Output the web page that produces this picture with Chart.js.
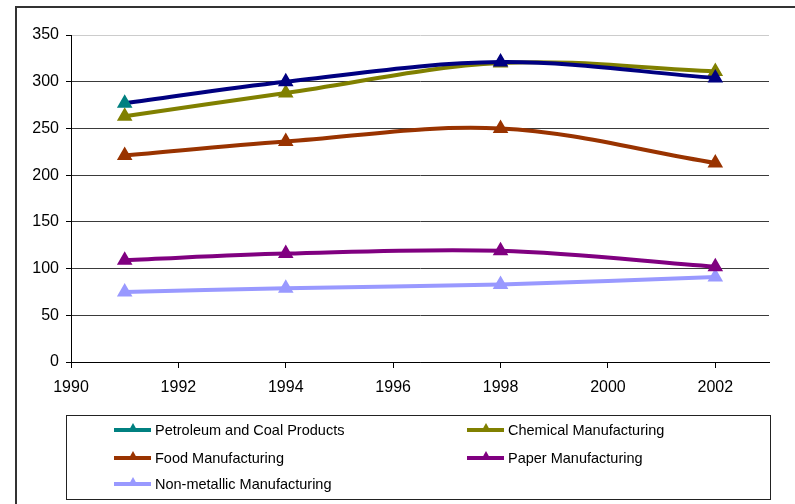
<!DOCTYPE html>
<html>
<head>
<meta charset="utf-8">
<script src="https://cdn.jsdelivr.net/npm/chart.js@4"></script>
<style>
  body { margin: 0; background: #fff; font-family: "Liberation Sans", Arial, sans-serif; }
  #wrap { position: relative; width: 795px; height: 504px; overflow: hidden; }
  #frame { position: absolute; left: 15px; top: 6px; width: 900px; height: 600px; border: 2px solid #333; }
  #grafico { position: absolute; left: 0; top: 0; }
  #leyenda { position: absolute; left: 66px; top: 415px; width: 703px; height: 83px; border: 1px solid #222; }
  .item { position: absolute; font-size: 14.5px; color: #000; white-space: nowrap; line-height: 18px; }
  .sim { position: absolute; left: -41px; top: 7px; width: 37px; height: 4px; }
  .tri { position: absolute; left: 14px; top: -5px; width: 0; height: 0;
         border-left: 5px solid transparent; border-right: 5px solid transparent; border-bottom: 9px solid; }
</style>
</head>
<body>
<div id="wrap">
  <div id="frame"></div>
  <canvas id="grafico" width="795" height="504"></canvas>
  <div id="leyenda"></div>
</div>
<script>
// datos
const anios = [1991, 1994, 1998, 2002];
const petroleo = [277, 300, 321, 304];
const quimica = [263, 288, 320, 311];
const alimentos = [221, 236, 250, 213];
const papel = [109, 116, 119, 102];
const noMetalica = [75, 79, 83, 91];
const ticksY = [0, 50, 100, 150, 200, 250, 300, 350];
const ticksX = [1990, 1992, 1994, 1996, 1998, 2000, 2002];

const nombres = ["Petroleum and Coal Products", "Chemical Manufacturing", "Food Manufacturing",
                 "Paper Manufacturing", "Non-metallic Manufacturing"];
const series = [petroleo, quimica, alimentos, papel, noMetalica];
const colores = ["#008080", "#808000", "#993300", "#800080", "#9999ff"];

function puntos(valores) {
    return anios.map((a, i) => ({ x: a, y: valores[i] }));
}

const datasets = series.map((s, i) => ({
    label: nombres[i],
    data: puntos(s),
    borderColor: colores[i],
    backgroundColor: colores[i],
    pointBackgroundColor: colores[i],
    pointBorderColor: colores[i],
    borderWidth: 4,
    pointStyle: 'triangle',
    pointRadius: 5,
    tension: 0.35,
    fill: false
}));
// la linea de petroleo sale azul oscuro, solo el primer marcador es verde azulado
datasets[0].segment = { borderColor: "#000080" };
datasets[0].pointBackgroundColor = anios.map((a, i) => i === 0 ? "#008080" : "#000080");
datasets[0].pointBorderColor = datasets[0].pointBackgroundColor;
// dibujar petroleo encima
datasets[0].order = -1;

const fuente = { family: "'Liberation Sans', Arial, sans-serif", size: 16 };

const chart = new Chart(document.getElementById('grafico'), {
    type: 'line',
    data: { datasets: datasets },
    options: {
        responsive: false,
        animation: false,
        layout: { padding: { left: 0, top: 35, right: 26, bottom: 112 } },
        plugins: { legend: { display: false }, tooltip: { enabled: false } },
        scales: {
            x: {
                type: 'linear',
                min: 1990,
                max: 2003,
                afterFit: (s) => { s.height = 30; },
                afterBuildTicks: (s) => { s.ticks = ticksX.map(v => ({ value: v })); },
                ticks: { color: '#000', font: fuente, padding: 10, maxRotation: 0, callback: (v) => String(v) },
                grid: { drawOnChartArea: false, tickLength: 6, color: '#000' },
                border: { color: '#000', width: 1 }
            },
            y: {
                min: 0,
                max: 350,
                afterFit: (s) => { s.width = 71; },
                afterBuildTicks: (s) => { s.ticks = ticksY.map(v => ({ value: v })); },
                ticks: { color: '#000', font: fuente, padding: 7 },
                grid: {
                    tickLength: 5,
                    color: (c) => (c.tick && c.tick.value === 350) ? '#cccccc' : '#3a3a3a',
                    tickColor: '#000'
                },
                border: { color: '#000', width: 1 }
            }
        }
    }
});

// leyenda en dos columnas
const leyenda = document.getElementById('leyenda');
const posiciones = [[88, 5], [441, 5], [88, 33], [441, 33], [88, 59]];
nombres.forEach((n, i) => {
    const d = document.createElement('div');
    d.className = 'item';
    d.style.left = posiciones[i][0] + 'px';
    d.style.top = posiciones[i][1] + 'px';
    d.innerHTML = '<span class="sim" style="background:' + colores[i] + '"><span class="tri" style="border-bottom-color:' +
        colores[i] + '"></span></span>' + n;
    leyenda.appendChild(d);
});
</script>
</body>
</html>
